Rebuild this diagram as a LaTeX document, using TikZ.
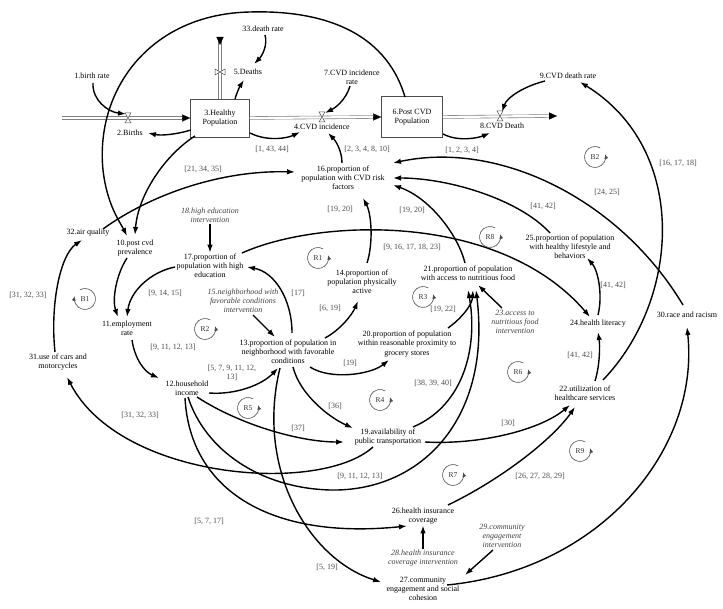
\documentclass[tikz,border=0pt]{standalone}
\usepackage{fontspec}
\setmainfont{Liberation Serif}
\usetikzlibrary{arrows.meta}
\begin{document}
\begin{tikzpicture}[x=1pt,y=-1pt,
  txt/.style={font=\fontsize{8}{9.2}\selectfont, align=center, inner sep=1pt},
  itx/.style={font=\fontsize{8}{9.2}\selectfont\itshape, text=black!75, align=center, inner sep=1pt},
  brk/.style={font=\fontsize{8}{9.2}\selectfont, text=black!70, align=center, inner sep=1pt},
  stock/.style={txt, draw=black!70, line width=0.7pt, minimum width=59pt, minimum height=38pt},
  arr/.style={line width=1.4pt, -{Latex[length=8pt,width=5.5pt]}},
  pipe/.style={draw=black!50, double=white, double distance=2.2pt, line width=0.6pt},
  pipetip/.style={line width=0.2pt, -{Triangle[length=8pt,width=7pt]}},
  valve/.style={fill=white, draw=black!70, line width=0.5pt},
  loopc/.style={font=\fontsize{7.5}{8}\selectfont, text=black!80, inner sep=0pt},
  looparr/.style={line width=0.6pt, draw=black!70, -{Latex[length=4.5pt,width=4pt]}}
]
\useasboundingbox (0,0) rectangle (723,609);
\fill[white] (0,0) rectangle (723,609);

% ---------- nodes ----------
\node[txt] (n1) at (92,76) {1.birth rate};
\node[stock] (n3) at (220,118) {3.Healthy\\Population};
\node[txt] (n2) at (130,133) {2.Births};
\node[txt] (n5) at (248,72) {5.Deaths};
\node[txt] (n33) at (263,29) {33.death rate};
\node[txt] (n7) at (352,77) {7.CVD incidence\\rate};
\node[txt] (n4) at (322,127) {4.CVD incidence};
\node[stock, minimum width=61pt, minimum height=41pt] (n6) at (412,117) {6.Post CVD\\Population};
\node[txt] (n8) at (502,126) {8.CVD Death};
\node[txt] (n9) at (568,76) {9.CVD death rate};
\node[txt] (n16) at (343,178) {16.proportion of\\population with CVD risk\\factors};
\node[txt] (n32) at (88,233) {32.air quality};
\node[txt] (n10) at (135,248) {10.post cvd\\prevalence};
\node[itx] (n18) at (210,215) {18.high education\\intervention};
\node[txt] (n17) at (210,266) {17.proportion of\\population with high\\education};
\node[txt] (n11) at (127,328) {11.employment\\rate};
\node[txt] (n31) at (58,362) {31.use of cars and\\motorcycles};
\node[txt] (n12) at (187,388) {12.household\\income};
\node[itx] (n15) at (243,301) {15.neighborhood with\\favorable conditions\\intervention};
\node[txt] (n13) at (288,352) {13.proportion of population in\\neighborhood with favorable\\conditions};
\node[txt] (n14) at (362,282) {14.proportion of\\population physically\\active};
\node[txt] (n20) at (407,344) {20.proportion of population\\within reasonable proximity to\\grocery stores};
\node[txt] (n21) at (468,273) {21.proportion of population\\with access to nutritious food};
\node[itx] (n23) at (515,322) {23.access to\\nutritious food\\intervention};
\node[txt] (n25) at (570,247) {25.proportion of population\\with healthy lifestyle and\\behaviors};
\node[txt] (n24) at (598,324) {24.health literacy};
\node[txt] (n30) at (687,315) {30.race and racism};
\node[txt] (n22) at (585,393) {22.utilization of\\healthcare services};
\node[txt] (n19) at (388,437) {19.availability of\\public transportation};
\node[txt] (n26) at (423,516) {26.health insurance\\coverage};
\node[itx] (n28) at (423,558) {28.health insurance\\coverage intervention};
\node[txt] (n27) at (423,589) {27.community\\engagement and social\\cohesion};
\node[itx] (n29) at (502,536) {29.community\\engagement\\intervention};

% ---------- stock and flow pipes ----------
\coordinate (pB0) at (62,118);
\coordinate (pD1) at (220,45);
\coordinate (pC1) at (557,116);
\coordinate (vB) at (128,118);
\coordinate (vD) at (220,72);
\coordinate (vI) at (322,117);
\coordinate (vC) at (500,116);
\draw[pipe] (pB0) -- ([xshift=-6pt]n3.west);
\draw[pipetip] ([xshift=-8pt]n3.west) -- (n3.west);
\draw[pipe] (n3.north) -- ([yshift=6pt]pD1);
\draw[pipetip] ([yshift=8pt]pD1) -- (pD1);
\draw[pipe] (n3.east) -- ([xshift=-6pt]n6.west);
\draw[pipetip] ([xshift=-8pt]n6.west) -- (n6.west);
\draw[pipe] (n6.east) -- ([xshift=-6pt]pC1);
\draw[pipetip] ([xshift=-8pt]pC1) -- (pC1);
\foreach \v in {vB,vI,vC}{
  \begin{scope}[shift={(\v)}]
    \filldraw[valve] (-3,-5) -- (3,-5) -- (0,0) -- cycle;
    \filldraw[valve] (0,0) -- (-3,5) -- (3,5) -- cycle;
  \end{scope}}
\begin{scope}[shift={(vD)}]
  \filldraw[valve] (-5,-3) -- (-5,3) -- (0,0) -- cycle;
  \filldraw[valve] (0,0) -- (5,-3) -- (5,3) -- cycle;
\end{scope}

% ---------- connectors ----------
\draw[arr] ([shift={(1,7)}]n1.center) .. controls (92,100) and (108,112) .. ([shift={(-2,-4)}]vB);
\draw[arr] ([shift={(-29,12)}]n3.center) .. controls (178,134) and (162,136) .. ([shift={(18,0)}]n2.center);
\draw[arr] ([shift={(2,6)}]n33.center) .. controls (268,45) and (262,56) .. ([shift={(6,-8)}]n5.center);
\draw[arr] ([shift={(15,-19)}]n3.center) .. controls (237,92) and (240,86) .. ([shift={(-4,8)}]n5.center);
\draw[arr] ([shift={(-2,9)}]n7.center) .. controls (346,100) and (335,108) .. ([shift={(3,-4)}]vI);
\draw[arr] ([shift={(30,15)}]n3.center) .. controls (268,142) and (288,138) .. ([shift={(-22,5)}]n4.center);
\draw[arr] ([shift={(31,17)}]n6.center) .. controls (458,142) and (478,138) .. ([shift={(-12,7)}]n8.center);
\draw[arr] ([shift={(-23,5)}]n9.center) .. controls (525,86) and (507,97) .. ([shift={(2,-4)}]vC);
% big arc 6 -> 10
\draw[arr] ([shift={(-7,-20)}]n6.center) .. controls (385,30) and (320,10) .. (250,12)
   .. controls (150,14) and (95,90) .. (103,170)
   .. controls (107,205) and (120,222) .. ([shift={(-8,-12)}]n10.center);
\draw[arr] ([shift={(-25,18)}]n3.center) .. controls (165,155) and (138,195) .. ([shift={(0,-13)}]n10.center);
\draw[arr] ([shift={(15,-4)}]n32.center) .. controls (150,195) and (220,170) .. ([shift={(-48,-6)}]n16.center);
\draw[arr] ([shift={(-8,10)}]n10.center) .. controls (116,275) and (112,300) .. ([shift={(-9,-11)}]n11.center);
\draw[arr] ([shift={(-35,1)}]n17.center) .. controls (150,272) and (130,292) .. ([shift={(0,-11)}]n11.center);
\draw[arr] (n18.south) -- (n17.north);
\draw[arr] ([shift={(5,12)}]n11.center) .. controls (135,360) and (145,372) .. ([shift={(-28,-10)}]n12.center);
\draw[arr] ([shift={(-3,-10)}]n31.center) .. controls (50,305) and (60,255) .. ([shift={(-6,7)}]n32.center);
\draw[arr] ([shift={(-15,10)}]n19.center) .. controls (320,495) and (120,480) .. ([shift={(9,15)}]n31.center);
\draw[arr] ([shift={(22,5)}]n12.center) .. controls (235,395) and (262,385) .. ([shift={(-10,16)}]n13.center);
\draw[arr] ([shift={(10,14)}]n15.center) -- ([shift={(-13,-15)}]n13.center);
\draw[arr] ([shift={(4,-19)}]n13.center) .. controls (292,300) and (275,272) .. ([shift={(37,1)}]n17.center);
\draw[arr] ([shift={(37,-14)}]n13.center) .. controls (340,330) and (352,315) .. ([shift={(-4,19)}]n14.center);
\draw[arr] ([shift={(5,-19)}]n14.center) .. controls (373,245) and (372,215) .. ([shift={(20,20)}]n16.center);
\draw[arr] ([shift={(-1,-15)}]n16.center) .. controls (342,150) and (335,140) .. ([shift={(6,6)}]n4.center);
\draw[arr] ([shift={(-3,-10)}]n21.center) .. controls (458,235) and (430,198) .. ([shift={(50,7)}]n16.center);
\draw[arr] ([shift={(-20,-14)}]n25.center) .. controls (520,200) and (450,178) .. ([shift={(50,0)}]n16.center);
\draw[arr] ([shift={(-4,-10)}]n30.center) .. controls (620,200) and (500,140) .. ([shift={(50,-15)}]n16.center);
\draw[arr] ([shift={(18,-13)}]n22.center) .. controls (680,300) and (690,150) .. ([shift={(12,6)}]n9.center);
\draw[arr] ([shift={(32,-13)}]n17.center) .. controls (320,218) and (500,212) .. ([shift={(-8,-7)}]n24.center);
\draw[arr] ([shift={(0,-9)}]n24.center) .. controls (603,295) and (598,270) .. ([shift={(17,11)}]n25.center);
\draw[arr] ([shift={(10,-12)}]n22.center) .. controls (600,365) and (600,345) .. ([shift={(0,8)}]n24.center);
\draw[arr] ([shift={(41,-16)}]n20.center) .. controls (462,318) and (472,305) .. ([shift={(5,17)}]n21.center);
\draw[arr] ([shift={(-13,-14)}]n23.center) -- ([shift={(10,12)}]n21.center);
\draw[arr] ([shift={(22,15)}]n13.center) .. controls (330,380) and (370,375) .. ([shift={(-18,16)}]n20.center);
\draw[arr] ([shift={(5,15)}]n13.center) .. controls (300,395) and (330,418) .. ([shift={(-35,-9)}]n19.center);
\draw[arr] ([shift={(10,9)}]n12.center) .. controls (240,425) and (300,442) .. ([shift={(-44,5)}]n19.center);
\draw[arr] ([shift={(25,-10)}]n19.center) .. controls (465,405) and (478,345) .. ([shift={(0,17)}]n21.center);
\draw[arr] ([shift={(1,9)}]n12.center) .. controls (205,450) and (260,488) .. (330,490)
   .. controls (420,492) and (492,420) .. ([shift={(8,17)}]n21.center);
\draw[arr] ([shift={(37,5)}]n19.center) .. controls (480,445) and (540,430) .. ([shift={(-15,12)}]n22.center);
\draw[arr] ([shift={(25,-11)}]n26.center) .. controls (500,480) and (552,440) .. ([shift={(-10,14)}]n22.center);
\draw[arr] ([shift={(-2,10)}]n12.center) .. controls (190,490) and (270,540) .. ([shift={(-16,10)}]n26.center);
\draw[arr] ([shift={(-8,16)}]n13.center) .. controls (255,470) and (310,560) .. ([shift={(-42,-7)}]n27.center);
\draw[arr] ([shift={(-9,14)}]n29.center) -- ([shift={(42,-14)}]n27.center);
\draw[arr] (n28.north) -- (n26.south);
\draw[arr] ([shift={(24,-4)}]n27.center) .. controls (600,570) and (700,450) .. ([shift={(0,12)}]n30.center);

% ---------- bracket labels ----------
\node[brk] at (272,149) {[1, 43, 44]};
\node[brk] at (367,149) {[2, 3, 4, 8, 10]};
\node[brk] at (462,150) {[1, 2, 3, 4]};
\node[brk] at (203,169) {[21, 34, 35]};
\node[brk] at (678,163) {[16, 17, 18]};
\node[brk] at (607,192) {[24, 25]};
\node[brk] at (543,206) {[41, 42]};
\node[brk] at (340,209) {[19, 20]};
\node[brk] at (412,210) {[19, 20]};
\node[brk] at (412,247) {[9, 16, 17, 18, 23]};
\node[brk] at (165,293) {[9, 14, 15]};
\node[brk] at (298,293) {[17]};
\node[brk] at (330,308) {[6, 19]};
\node[brk] at (443,309) {[19, 22]};
\node[brk] at (613,285) {[41, 42]};
\node[brk] at (580,355) {[41, 42]};
\node[brk] at (28,295) {[31, 32, 33]};
\node[brk] at (173,347) {[9, 11, 12, 13]};
\node[brk] at (232,373) {[5, 7, 9, 11, 12,\\13]};
\node[brk] at (350,363) {[19]};
\node[brk] at (433,383) {[38, 39, 40]};
\node[brk] at (335,406) {[36]};
\node[brk] at (298,428) {[37]};
\node[brk] at (508,423) {[30]};
\node[brk] at (360,476) {[9, 11, 12, 13]};
\node[brk] at (540,476) {[26, 27, 28, 29]};
\node[brk] at (140,415) {[31, 32, 33]};
\node[brk] at (209,521) {[5, 7, 17]};
\node[brk] at (327,567) {[5, 19]};

% ---------- loop symbols ----------
\foreach \nm/\px/\py in {R1/318/258, R2/205/329, R3/423/297, R4/380/400, R5/248/408,
                          R6/518/372, R7/453/475, R8/490/237, R9/580/451, B2/595/157}{
  \node[loopc] (L\nm) at (\px,\py) {\nm};
  \draw[looparr] ([shift={(60:10.5pt)}]L\nm.center) arc[start angle=60, end angle=375, radius=10.5pt];
}
\node[loopc] (LB1) at (85,299) {B1};
\draw[looparr] ([shift={(120:10.5pt)}]LB1.center) arc[start angle=120, end angle=-195, radius=10.5pt];

\end{tikzpicture}
\end{document}
